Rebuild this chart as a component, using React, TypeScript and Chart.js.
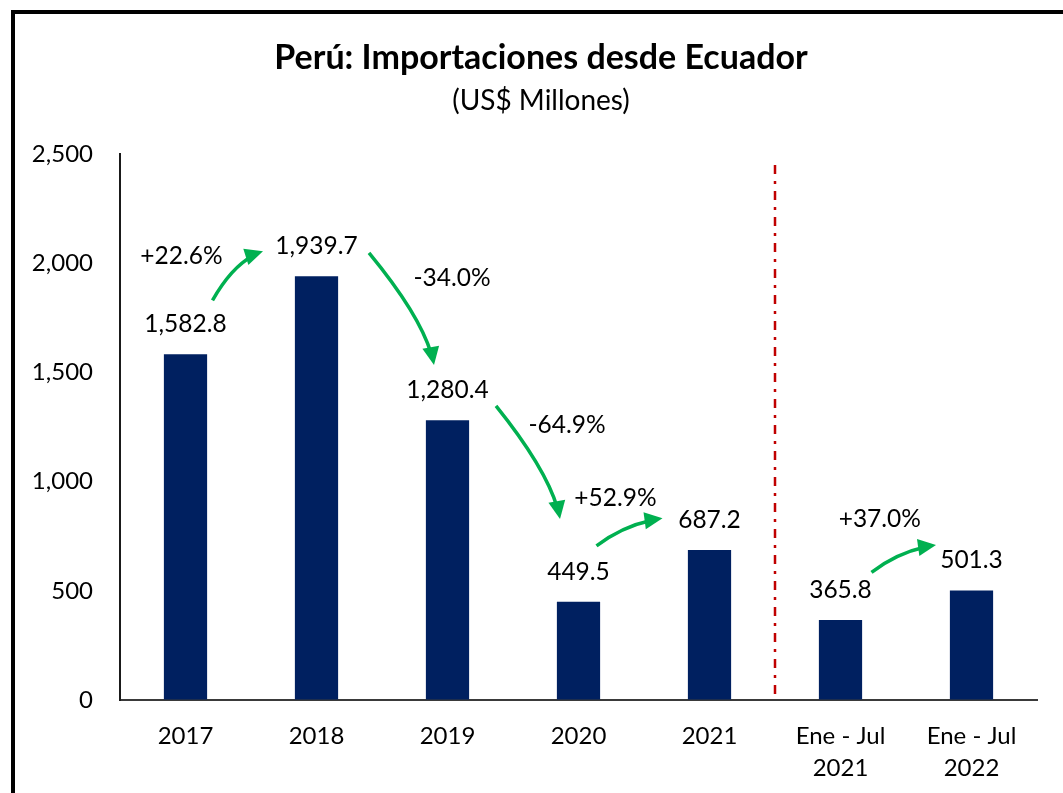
import React, { useEffect, useRef } from 'react';
import { Chart, registerables } from 'chart.js';

Chart.register(...registerables);

// ---- data ----
const categories: (string | string[])[] = [
  '2017',
  '2018',
  '2019',
  '2020',
  '2021',
  ['Ene - Jul', '2021'],
  ['Ene - Jul', '2022'],
];
const importValues = [1582.8, 1939.7, 1280.4, 449.5, 687.2, 365.8, 501.3];
const yMin = 0;
const yMax = 2500;
const yStep = 500;
const growthPairs: [number, number][] = [
  [0, 1],
  [1, 2],
  [2, 3],
  [3, 4],
  [5, 6],
];
const growthLabels = ['+22.6%', '-34.0%', '-64.9%', '+52.9%', '+37.0%'];
const titleText = 'Perú: Importaciones desde Ecuador';
const subtitleText = '(US$ Millones)';

// ---- styling / annotation layout (pixel offsets relative to bar tops) ----
const arrowLayout = [
  { start: [27, -54], end: [-53.5, -25], label: [-31, -44] },
  { start: [52.5, -23.4], end: [-13.5, -55.4], label: [83, 25] },
  { start: [48.5, -14.4], end: [-18.5, -82.8], label: [71, 19] },
  { start: [18, -56], end: [-47, -31.6], label: [19, -48] },
  { start: [31, -47.8], end: [-35.5, -45.5], label: [8.3, -53] },
];
const dividerAfterIndex = 4;
const dividerTopValue = 2450;

const FONT = 'Lato';
const BAR_COLOR = '#002060';
const ARROW_COLOR = '#00B050';
const DIVIDER_COLOR = '#C00000';

const fmtValue = (v: number) =>
  v.toLocaleString('en-US', { minimumFractionDigits: 1, maximumFractionDigits: 1 });

function drawArrow(ctx: CanvasRenderingContext2D, sx: number, sy: number, ex: number, ey: number, up: boolean) {
  const dx = ex - sx;
  const dy = ey - sy;
  const cx = up ? sx + 0.45 * dx : sx + 0.88 * dx;
  const cy = up ? ey - 0.18 * dy : sy + 0.62 * dy;
  const headLen = 18;
  const headHalf = 8.5;
  let tx = ex - cx;
  let ty = ey - cy;
  const tl = Math.hypot(tx, ty) || 1;
  tx /= tl;
  ty /= tl;
  const q = (t: number) => [
    (1 - t) * (1 - t) * sx + 2 * (1 - t) * t * cx + t * t * ex,
    (1 - t) * (1 - t) * sy + 2 * (1 - t) * t * cy + t * t * ey,
  ];
  let t = 1;
  while (t > 0) {
    const p = q(t);
    if (Math.hypot(p[0] - ex, p[1] - ey) >= headLen * 0.6) break;
    t -= 0.005;
  }
  const c1x = sx + (cx - sx) * t;
  const c1y = sy + (cy - sy) * t;
  const b = q(t);
  ctx.save();
  ctx.strokeStyle = ARROW_COLOR;
  ctx.fillStyle = ARROW_COLOR;
  ctx.lineWidth = 3.5;
  ctx.lineCap = 'butt';
  ctx.beginPath();
  ctx.moveTo(sx, sy);
  ctx.quadraticCurveTo(c1x, c1y, b[0], b[1]);
  ctx.stroke();
  const bx = ex - tx * headLen;
  const by = ey - ty * headLen;
  ctx.beginPath();
  ctx.moveTo(ex, ey);
  ctx.lineTo(bx - ty * headHalf, by + tx * headHalf);
  ctx.lineTo(bx + ty * headHalf, by - tx * headHalf);
  ctx.closePath();
  ctx.fill();
  ctx.restore();
}

const annotationsPlugin = {
  id: 'annotations',
  afterDatasetsDraw(chart: any) {
    const ctx: CanvasRenderingContext2D = chart.ctx;
    const xs = chart.scales.x;
    const ys = chart.scales.y;
    const meta = chart.getDatasetMeta(0);

    // divider
    const divX = (xs.getPixelForValue(dividerAfterIndex) + xs.getPixelForValue(dividerAfterIndex + 1)) / 2;
    ctx.save();
    ctx.strokeStyle = DIVIDER_COLOR;
    ctx.lineWidth = 2.5;
    ctx.setLineDash([9, 7, 3, 7]);
    ctx.beginPath();
    ctx.moveTo(divX, ys.getPixelForValue(dividerTopValue));
    ctx.lineTo(divX, ys.getPixelForValue(0));
    ctx.stroke();
    ctx.restore();

    // value labels
    ctx.save();
    ctx.font = `24.5px ${FONT}`;
    ctx.fillStyle = '#000';
    ctx.textAlign = 'center';
    ctx.textBaseline = 'middle';
    meta.data.forEach((bar: any, i: number) => {
      ctx.fillText(fmtValue(importValues[i]), bar.x, bar.y - 30);
    });
    ctx.restore();

    // growth arrows
    growthPairs.forEach(([a, b], k) => {
      const lay = arrowLayout[k];
      const ba = meta.data[a];
      const bb = meta.data[b];
      const sx = ba.x + lay.start[0];
      const sy = ba.y + lay.start[1];
      const ex = bb.x + lay.end[0];
      const ey = bb.y + lay.end[1];
      const up = importValues[b] > importValues[a];
      drawArrow(ctx, sx, sy, ex, ey, up);
      ctx.save();
      ctx.font = `24.5px ${FONT}`;
      ctx.fillStyle = '#000';
      ctx.textAlign = 'center';
      ctx.textBaseline = 'middle';
      ctx.fillText(growthLabels[k], sx + lay.label[0], sy + lay.label[1]);
      ctx.restore();
    });
  },
  afterDraw(chart: any) {
    const ctx: CanvasRenderingContext2D = chart.ctx;
    ctx.save();
    ctx.fillStyle = '#000';
    ctx.textAlign = 'center';
    ctx.textBaseline = 'alphabetic';
    ctx.font = `bold 34px ${FONT}`;
    ctx.fillText(titleText, 541, 69);
    ctx.font = `28px ${FONT}`;
    ctx.fillText(subtitleText, 541, 110);
    ctx.restore();
  },
};

export default function App() {
  const canvasRef = useRef<HTMLCanvasElement | null>(null);

  useEffect(() => {
    if (!canvasRef.current) return;
    const tickFont = { family: FONT, size: 24, lineHeight: 1.3 };
    const hiddenGrid = { display: true, color: 'rgba(0,0,0,0)', drawTicks: false };
    const chart = new Chart(canvasRef.current, {
      type: 'bar',
      data: {
        labels: categories as any,
        datasets: [
          {
            data: importValues,
            backgroundColor: BAR_COLOR,
            borderWidth: 0,
            barPercentage: 0.33,
            categoryPercentage: 1,
          },
        ],
      },
      options: {
        animation: false,
        responsive: false,
        maintainAspectRatio: false,
        layout: { padding: { top: 154, right: 26, left: 0, bottom: 0 } },
        plugins: {
          legend: { display: false },
          tooltip: { enabled: false },
          title: { display: false },
        },
        scales: {
          x: {
            grid: hiddenGrid,
            border: { display: true, color: '#3a3a3a', width: 2 },
            ticks: { font: tickFont, color: '#000', padding: 21, maxRotation: 0, autoSkip: false },
            afterFit: (s: any) => {
              s.height = 93;
            },
          },
          y: {
            min: yMin,
            max: yMax,
            grid: hiddenGrid,
            border: { display: true, color: '#1a1a1a', width: 2 },
            ticks: {
              stepSize: yStep,
              font: tickFont,
              color: '#000',
              padding: 27,
              callback: (v: any) => Number(v).toLocaleString('en-US'),
            },
            afterFit: (s: any) => {
              s.width = 120;
            },
          },
        },
      },
      plugins: [annotationsPlugin],
    });
    return () => chart.destroy();
  }, []);

  return (
    <div
      style={{
        position: 'absolute',
        left: 0,
        top: 0,
        width: 1063,
        height: 793,
        overflow: 'hidden',
        background: '#fff',
      }}
    >
      <div
        style={{
          position: 'absolute',
          left: 11,
          top: 10,
          width: 1200,
          height: 1000,
          border: '4px solid #000',
          boxSizing: 'border-box',
        }}
      />
      <canvas
        ref={canvasRef}
        width={1063}
        height={793}
        style={{ position: 'absolute', left: 0, top: 0, width: 1063, height: 793 }}
      />
    </div>
  );
}
